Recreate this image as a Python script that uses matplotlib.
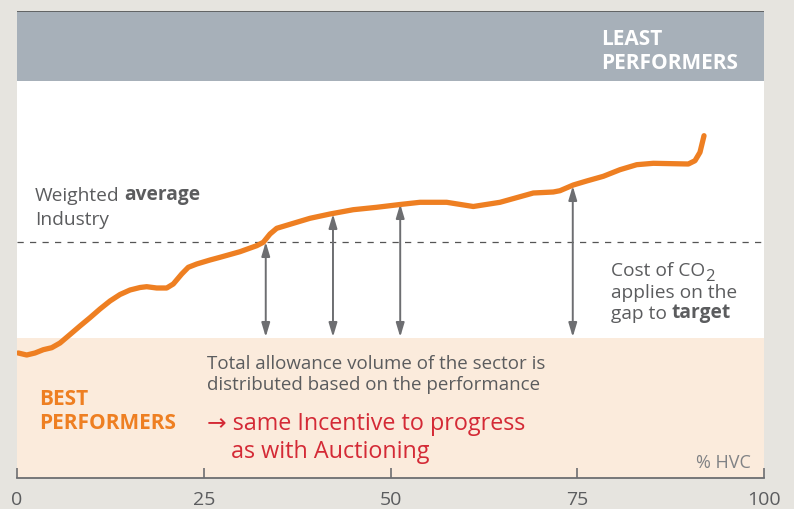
import matplotlib
matplotlib.use("Agg")
import matplotlib.pyplot as plt

# ---------------- data ----------------
hvc_share = [0.17, 1.30, 2.41, 3.52, 4.65, 5.76, 7.10, 8.43, 9.77, 11.11, 12.45,
             13.79, 15.13, 16.47, 17.36, 18.70, 20.04, 20.92, 22.05, 22.93, 24.06,
             25.84, 27.18, 29.85, 32.09, 32.97, 33.87, 34.77, 36.99, 39.22, 41.90,
             45.02, 48.15, 51.27, 53.95, 57.52, 61.08, 64.66, 69.12, 71.79, 72.69,
             74.47, 76.26, 78.49, 80.72, 82.96, 85.18, 87.86, 89.87, 90.76, 91.43, 91.97]
intensity = [125.0, 123.0, 125.0, 128.3, 130.3, 135.0, 143.5, 152.0, 160.3, 169.0, 177.0,
             183.5, 188.0, 190.5, 191.3, 190.0, 190.0, 194.0, 204.0, 210.7, 214.0,
             218.0, 220.7, 226.3, 232.3, 235.7, 244.0, 249.7, 254.7, 259.7, 264.0,
             268.3, 270.7, 273.5, 275.7, 275.7, 271.5, 275.7, 285.0, 286.0, 287.3,
             293.0, 297.0, 301.7, 308.3, 313.3, 314.7, 314.3, 314.0, 317.3, 325.7, 342.3]
weighted_average = 236.0
target_level = 140.0
arrow_x = [33.3, 42.3, 51.3, 74.4]
arrow_top = [236.0, 264.0, 274.0, 292.0]
xticks = [0, 25, 50, 75, 100]
y_top = 467.0
least_band_bottom = 397.0

# ---------------- style ----------------
BG = "#e6e4df"
GREY_BAND = "#a7b0b9"
PEACH = "#fbebdc"
ORANGE = "#ee7f22"
RED = "#d42a36"
TXT = "#5b5c5e"
ARROW = "#6d6e71"
FONT = "Open Sans"

plt.rcParams["font.family"] = [FONT, "DejaVu Sans"]

fig = plt.figure(figsize=(7.94, 5.10), dpi=100, facecolor=BG)
W, H = 794, 510
ax = fig.add_axes([17 / W, (H - 479) / H, (764 - 17) / W, (479 - 12) / H])
ax.set_facecolor("white")
ax.set_xlim(0, 100)
ax.set_ylim(0, y_top)

# bands
ax.axhspan(least_band_bottom, y_top, color=GREY_BAND, lw=0, zorder=0)
ax.axhspan(0, target_level, color=PEACH, lw=0, zorder=0)
ax.axhline(y_top, color="#555555", lw=1.2, zorder=3)

# dashed average line
ax.axhline(weighted_average, color="#555555", lw=0.9, dashes=(5, 5), zorder=1)

# arrows
for xa, ya in zip(arrow_x, arrow_top):
    ax.annotate("", xy=(xa, target_level + 1), xytext=(xa, ya),
                arrowprops=dict(arrowstyle="<|-|>,head_length=0.6,head_width=0.18",
                                mutation_scale=14, color=ARROW, lw=1.4,
                                shrinkA=0, shrinkB=0), zorder=2)

# curve
ax.plot(hvc_share, intensity, color=ORANGE, lw=3.8, solid_capstyle="round",
        solid_joinstyle="round", zorder=4)

# axes styling
for s in ["top", "left", "right"]:
    ax.spines[s].set_visible(False)
ax.spines["bottom"].set_color(ARROW)
ax.spines["bottom"].set_linewidth(1.3)
ax.set_yticks([])
ax.set_xticks(xticks)
ax.set_xticklabels([str(t) for t in xticks])
ax.tick_params(axis="x", direction="in", length=7, width=1.2, color=ARROW,
               labelsize=14, labelcolor=TXT, pad=9)

# texts
BOLD_SZ = 15
REG_SZ = 13.8
ax.text(78.2, 434, "LEAST", color="white", fontsize=BOLD_SZ, fontweight="bold", va="baseline")
ax.text(78.2, 409.7, "PERFORMERS", color="white", fontsize=BOLD_SZ, fontweight="bold", va="baseline")

t1 = ax.text(2.41, 278, "Weighted", color=TXT, fontsize=REG_SZ, va="baseline")
ax.annotate("average", xy=(1, 0), xycoords=t1, xytext=(3.5, 0), textcoords="offset points",
            color=TXT, fontsize=REG_SZ, fontweight="bold", va="bottom", ha="left")
ax.text(2.41, 254, "Industry", color=TXT, fontsize=REG_SZ, va="baseline")

t2 = ax.text(79.5, 203, "Cost of CO", color=TXT, fontsize=REG_SZ, va="baseline")
ax.annotate("2", xy=(1, 0), xycoords=t2, xytext=(0.3, -3.5), textcoords="offset points",
            color=TXT, fontsize=12, va="bottom", ha="left")
ax.text(79.5, 181.5, "applies on the", color=TXT, fontsize=REG_SZ, va="baseline")
t3 = ax.text(79.5, 159.7, "gap to", color=TXT, fontsize=REG_SZ, va="baseline")
ax.annotate("target", xy=(1, 0), xycoords=t3, xytext=(3.5, 0), textcoords="offset points",
            color=TXT, fontsize=REG_SZ, fontweight="bold", va="bottom", ha="left")

ax.text(25.4, 109.7, "Total allowance volume of the sector is", color=TXT, fontsize=13.5, va="baseline")
ax.text(25.4, 89, "distributed based on the performance", color=TXT, fontsize=13.5, va="baseline")

ax.text(2.95, 74, "BEST", color=ORANGE, fontsize=BOLD_SZ, fontweight="bold", va="baseline")
ax.text(2.95, 49.7, "PERFORMERS", color=ORANGE, fontsize=BOLD_SZ, fontweight="bold", va="baseline")

ax.text(25.4, 49, "\u2192 same Incentive to progress", color=RED, fontsize=16.8, va="baseline")
ax.text(28.7, 20.7, "as with Auctioning", color=RED, fontsize=16.8, va="baseline")

ax.text(98.3, 11, "% HVC", color="#808285", fontsize=13, va="baseline", ha="right")

fig.savefig("out.png", dpi=100, facecolor=BG)
